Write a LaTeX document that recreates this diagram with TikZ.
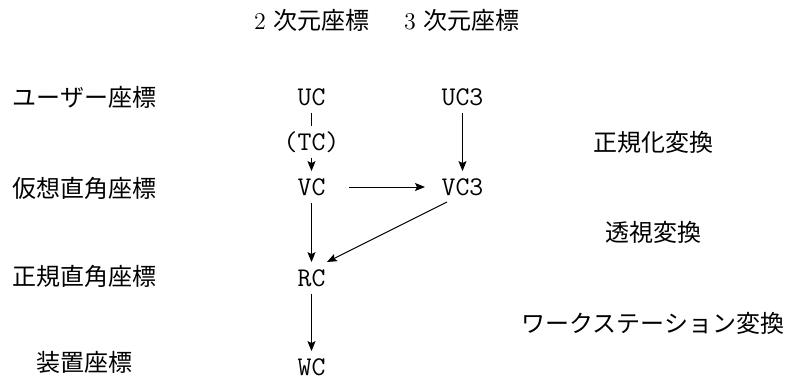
\documentclass[tikz,border=0pt]{standalone}
\usepackage{fontspec}
\newfontfamily\jp{Noto Sans CJK JP}
\usetikzlibrary{arrows.meta}
\begin{document}
\begin{tikzpicture}[x=0.5pt,y=-0.5pt,
  coord/.style={font=\fontsize{13.5}{16}\selectfont\ttfamily, inner xsep=10pt, inner ysep=3.5pt, text height=8.5pt, text depth=0pt},
  jlabel/.style={font=\fontsize{12}{14}\selectfont\jp, inner sep=0pt},
  hdr/.style={font=\fontsize{12}{14}\selectfont, inner sep=0pt},
  arr/.style={-{Stealth[length=5pt,width=4pt,inset=1pt]}, line width=0.5pt},
  ln/.style={line width=0.5pt}]
\useasboundingbox (0,0) rectangle (788,381);
% headers
\node[hdr] (h2) at (312,20) {2 {\jp 次元座標}};
\node[hdr] (h3) at (462,20) {3 {\jp 次元座標}};
% left labels
\node[jlabel] (l1) at (84.5,97) {ユーザー座標};
\node[jlabel] (l2) at (84.5,188) {仮想直角座標};
\node[jlabel] (l3) at (84.5,276) {正規直角座標};
\node[jlabel] (l4) at (84.5,362) {装置座標};
% right labels
\node[jlabel] (r1) at (653,142) {正規化変換};
\node[jlabel] (r2) at (653,232) {透視変換};
\node[jlabel] (r3) at (653,323) {ワークステーション変換};
% coordinate nodes
\node[coord] (uc) at (311.5,97) {UC};
\node[coord] (tc) at (311.5,142) {(TC)};
\node[coord] (vc) at (311.5,187) {VC};
\node[coord] (rc) at (311.5,278) {RC};
\node[coord] (wc) at (311.5,367) {WC};
\node[coord] (uc3) at (462.5,97) {UC3};
\node[coord] (vc3) at (462.5,187) {VC3};
% connectors
\draw[ln] (uc) -- (tc);
\draw[arr] (tc) -- (vc);
\draw[arr] ([xshift=18.75pt]vc.center) -- ([xshift=-18.75pt]vc3.center);
\draw[arr] (uc3) -- (vc3);
\draw[arr] (vc) -- (rc);
\draw[arr] ([xshift=-7.75pt,yshift=-7.5pt]vc3.center) -- ([xshift=7.75pt,yshift=8pt]rc.center);
\draw[arr] (rc) -- (wc);
\end{tikzpicture}
\end{document}
